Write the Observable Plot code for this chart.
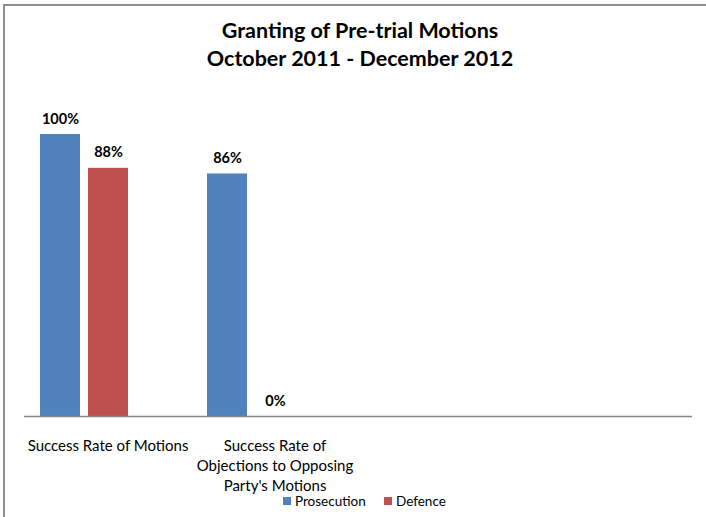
<!DOCTYPE html>
<html>
<head>
<meta charset="utf-8">
<script src="https://cdn.jsdelivr.net/npm/d3@7"></script>
<script src="https://cdn.jsdelivr.net/npm/@observablehq/plot@0.6"></script>
<style>
  html, body { margin: 0; padding: 0; background: #fff; }
  #page { position: relative; width: 706px; height: 517px; overflow: hidden; font-family: Lato, "Noto Sans", sans-serif; color: #000; }
  #border { position: absolute; left: 3px; top: 4px; width: 720px; height: 600px; border-top: 2px solid #8e8e8e; border-left: 2px solid #8e8e8e; pointer-events: none; z-index: 2; }
  #title { height: 90px; box-sizing: border-box; padding-top: 16px; padding-left: 14px; text-align: center; font-weight: bold; font-size: 21.5px; line-height: 28px; }
  #chart svg { display: block; }
  #legend { position: absolute; left: 0; top: 490px; width: 706px; height: 27px; font-size: 13.5px; }
  .item { position: absolute; top: 3px; display: flex; align-items: center; }
  .sw { width: 8px; height: 8px; margin-right: 4px; }
</style>
</head>
<body>
<div id="page">
  <div id="border"></div>
  <div id="title"></div>
  <div id="chart"></div>
  <div id="legend"></div>
</div>
<script>
const titleLines = ["Granting of Pre-trial Motions", "October 2011 - December 2012"];
const categories = ["Success Rate of Motions", "Success Rate of Objections to Opposing Party's Motions", "Category 3", "Category 4"];
const categoryLabels = ["Success Rate of Motions", "Success Rate of\nObjections to Opposing\nParty's Motions", "", ""];
const series = ["Prosecution", "Defence", "Series 3"];
const legendSeries = ["Prosecution", "Defence"];
const colors = ["#4F81BD", "#C0504D", "#9BBB59"];
const prosecution = [1.00, 0.86, null, null];
const defence = [0.88, 0.00, null, null];
const series3 = [null, null, null, null];

const valuesBySeries = [prosecution, defence, series3];
const rows = [];
categories.forEach((c, i) => {
  series.forEach((s, j) => rows.push({category: c, series: s, value: valuesBySeries[j][i]}));
});
const labelRows = categories.map((c, i) => ({category: c, label: categoryLabels[i]}));

document.getElementById("title").innerHTML = titleLines.join("<br>");

const chart = Plot.plot({
  width: 706,
  height: 427,
  marginTop: 44,
  marginBottom: 101,
  marginLeft: 23,
  marginRight: 13,
  style: {fontFamily: "Lato, 'Noto Sans', sans-serif", color: "#000", background: "transparent", overflow: "visible"},
  fx: {domain: categories, padding: 0, axis: null},
  x: {domain: series, paddingInner: 0.17, paddingOuter: 0.3, axis: null},
  y: {domain: [0, 1], axis: null},
  color: {domain: series, range: colors},
  marks: [
    Plot.barY(rows, {fx: "category", x: "series", y: "value", fill: "series", filter: d => d.value != null && d.value > 0}),
    Plot.ruleY([0], {stroke: "#868686", strokeWidth: 1.3}),
    Plot.text(rows.filter(d => d.value != null), {
      fx: "category", x: "series", y: "value",
      text: d => `${Math.round(d.value * 100)}%`,
      lineAnchor: "bottom", dy: -11,
      fontWeight: "bold", fontSize: 14.5, fill: "#000"
    }),
    Plot.text(labelRows, {
      fx: "category", text: "label",
      frameAnchor: "bottom", lineAnchor: "top", dy: 20,
      lineHeight: 1.35, fontSize: 15, fill: "#000"
    })
  ]
});
document.getElementById("chart").appendChild(chart);

const legend = document.getElementById("legend");
const lefts = [283, 384];
legendSeries.forEach((s, i) => {
  const item = document.createElement("div");
  item.className = "item";
  item.style.left = lefts[i] + "px";
  const sw = document.createElement("span");
  sw.className = "sw";
  sw.style.background = colors[series.indexOf(s)];
  const t = document.createElement("span");
  t.textContent = s;
  item.appendChild(sw);
  item.appendChild(t);
  legend.appendChild(item);
});
</script>
</body>
</html>
